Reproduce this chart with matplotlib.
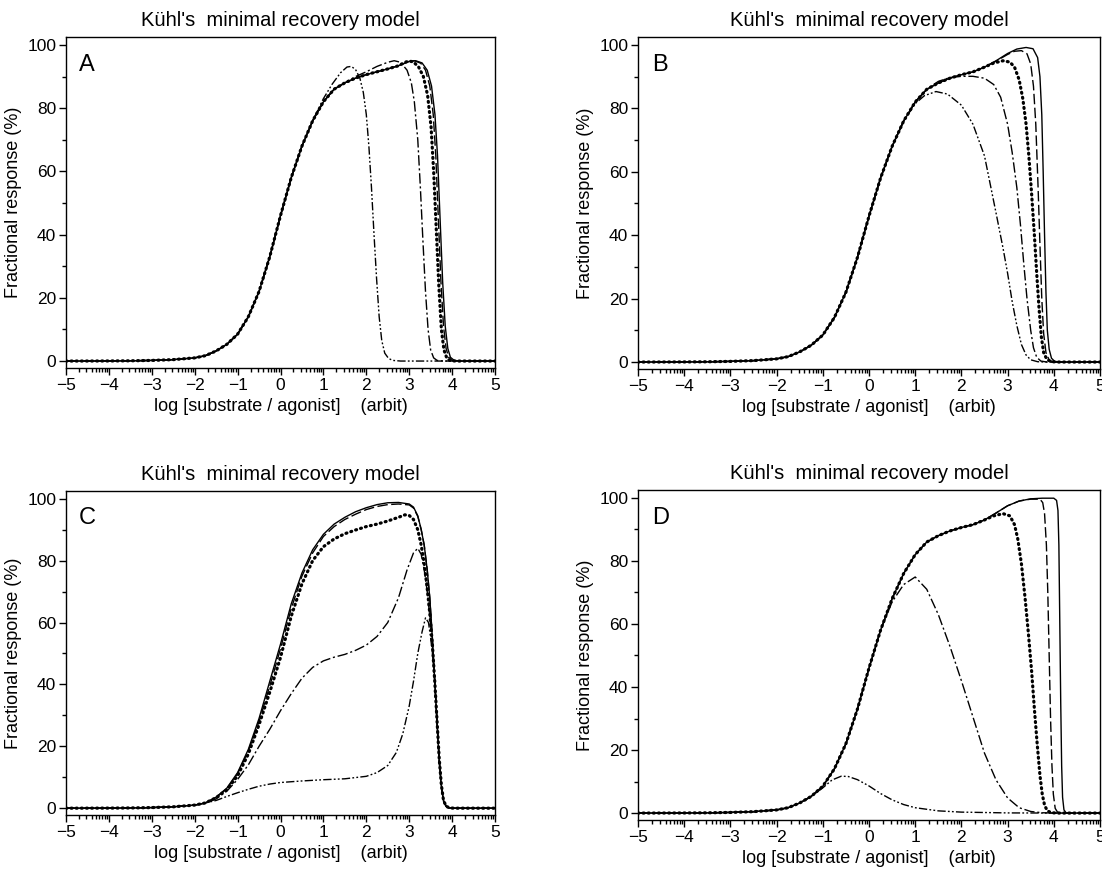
import numpy as np
import matplotlib.pyplot as plt

plt.rcParams['font.family'] = ['Liberation Sans', 'DejaVu Sans']

# shared foot of every curve (x < -1.5)
base_x = [-5, -4.5, -4, -3.5, -3, -2.5, -2, -1.75]
base_y = [0, 0.01, 0.03, 0.08, 0.2, 0.45, 1.0, 1.7]

# shared rising limb (panels A, B, D)
rise_x = [-1.5, -1.25, -1, -0.75, -0.5, -0.25, 0, 0.25, 0.5, 0.75, 1, 1.25, 1.5, 1.75, 2, 2.25, 2.5, 2.75]
rise_y = [3.2, 5.3, 8.5, 14, 22, 33, 46, 58, 68, 76, 82, 86, 88, 89.5, 90.6, 91.5, 92.4, 93.4]

# ---- panel A tails ----
a_solid_x = [3.0, 3.15, 3.3, 3.42, 3.52, 3.6, 3.66, 3.72, 3.78, 3.84, 3.9, 3.96, 4.05, 4.2, 5]
a_solid_y = [94.8, 95.0, 94.3, 92, 87, 78, 65, 45, 25, 11, 4, 1.2, 0.2, 0, 0]
a_dash_x = [3.0, 3.12, 3.27, 3.38, 3.48, 3.56, 3.62, 3.68, 3.74, 3.8, 3.86, 3.92, 4.0, 4.15, 5]
a_dash_y = [94.8, 95.0, 94.2, 92, 87, 78, 65, 45, 25, 11, 4, 1.2, 0.2, 0, 0]
a_dot_x = [2.9, 3.0, 3.1, 3.22, 3.33, 3.43, 3.51, 3.57, 3.63, 3.69, 3.75, 3.81, 3.88, 3.96, 4.1, 5]
a_dot_y = [94.5, 94.9, 94.6, 93, 90, 84, 74, 60, 42, 24, 10, 3.5, 0.8, 0.1, 0, 0]
a_dd_x = [1.75, 2.0, 2.25, 2.5, 2.65, 2.8, 2.95, 3.05, 3.12, 3.2, 3.26, 3.32, 3.38, 3.44, 3.5, 3.57, 3.65, 3.8, 5]
a_dd_y = [90.0, 91.5, 93.2, 94.5, 95, 94.5, 92, 88, 82, 70, 55, 38, 22, 10, 3.5, 1, 0.2, 0, 0]
a_ddd_x = [1.0, 1.2, 1.4, 1.55, 1.65, 1.75, 1.85, 1.93, 2.0, 2.06, 2.12, 2.18, 2.24, 2.3, 2.36, 2.43, 2.52, 2.62, 2.8, 5]
a_ddd_y = [83, 87.5, 91.2, 93, 93.2, 92.2, 89.5, 85, 78, 68, 55, 40, 26, 14, 6.5, 2.5, 0.8, 0.2, 0, 0]

# ---- panel B tails ----
b_solid_x = [2.5, 2.75, 3.0, 3.2, 3.4, 3.55, 3.65, 3.7, 3.74, 3.77, 3.8, 3.83, 3.86, 3.9, 3.95, 4.02, 4.15, 5]
b_solid_y = [93.0, 95.0, 97.3, 98.7, 99.2, 98.8, 96, 90, 78, 60, 40, 22, 10, 4, 1.2, 0.2, 0, 0]
b_dash_x = [2.5, 2.75, 3.0, 3.15, 3.3, 3.42, 3.5, 3.56, 3.61, 3.66, 3.7, 3.74, 3.78, 3.83, 3.9, 4.0, 5]
b_dash_y = [93.0, 94.9, 97, 98, 98.2, 97.2, 94, 87, 75, 55, 37, 20, 9, 3, 0.6, 0, 0]
b_dot_x = [2.5, 2.7, 2.9, 3.05, 3.15, 3.25, 3.33, 3.4, 3.46, 3.52, 3.58, 3.63, 3.68, 3.73, 3.78, 3.85, 3.95, 4.1, 5]
b_dot_y = [93, 94.3, 95.0, 94.6, 93, 89, 83, 75, 65, 53, 40, 28, 17, 8, 3, 0.8, 0.1, 0, 0]
b_dd_x = [1.5, 1.75, 2.0, 2.25, 2.5, 2.7, 2.85, 3.0, 3.1, 3.2, 3.28, 3.35, 3.42, 3.5, 3.56, 3.63, 3.72, 3.85, 5]
b_dd_y = [88.5, 89.7, 90.1, 90.1, 89.5, 87.5, 83.5, 75, 66, 55, 43, 31, 20, 10, 4.5, 1.5, 0.3, 0, 0]
b_ddd_x = [0.75, 1.0, 1.2, 1.45, 1.7, 2.0, 2.25, 2.5, 2.75, 2.9, 3.0, 3.1, 3.2, 3.3, 3.4, 3.5, 3.65, 3.8, 5]
b_ddd_y = [76, 81.5, 84, 85.3, 84.5, 81, 75, 65, 47, 36, 28, 19, 11.5, 5.5, 2.2, 0.7, 0.1, 0, 0]

# ---- panel C (own rising limbs) ----
c_drop_x = [3.2, 3.28, 3.35, 3.42, 3.48, 3.54, 3.6, 3.65, 3.7, 3.75, 3.8, 3.86, 3.93, 4.05, 5]
c_solid_x = [-1.5, -1.25, -1, -0.75, -0.5, -0.25, 0, 0.25, 0.5, 0.75, 1, 1.25, 1.5, 1.75, 2, 2.25, 2.5, 2.75, 3.0, 3.1] + c_drop_x
c_solid_y = [3.6, 6.5, 11.5, 19, 29, 41, 53, 66, 76, 83.5, 88.5, 91.8, 94, 95.8, 97.1, 98.1, 98.7, 98.8, 98.3, 97.3,
             94.5, 90, 85, 77, 68, 55, 40, 27, 15, 7, 2.2, 0.6, 0.1, 0, 0]
c_dash_x = [-1.5, -1.25, -1, -0.75, -0.5, -0.25, 0, 0.25, 0.5, 0.75, 1, 1.25, 1.5, 1.75, 2, 2.25, 2.5, 2.75, 3.0, 3.1] + c_drop_x
c_dash_y = [3.5, 6.3, 11.2, 18.5, 28, 39.5, 51.5, 64.5, 75, 82.5, 87.8, 91, 93.3, 95, 96.5, 97.5, 98.1, 98.3, 98.0, 97.0,
            94.3, 90, 85, 77, 68, 55, 40, 27, 15, 7, 2.2, 0.6, 0.1, 0, 0]
c_dot_x = [-1.5, -1.25, -1, -0.75, -0.5, -0.25, 0, 0.25, 0.5, 0.75, 1, 1.25, 1.5, 1.75, 2, 2.25, 2.5, 2.75, 2.9, 3.0, 3.1] + c_drop_x
c_dot_y = [3.4, 6, 10.5, 17.5, 27, 37.5, 48.7, 62, 72.5, 80, 84.5, 87, 88.7, 89.9, 91, 91.8, 92.8, 94, 94.8, 94.6, 93.3,
           90, 85, 79, 71, 63, 53, 40, 28, 16, 7.5, 2.5, 0.7, 0.1, 0, 0]
c_dd_x = [-1.5, -1.25, -1, -0.75, -0.5, -0.25, 0, 0.25, 0.5, 0.75, 1, 1.25, 1.5, 1.75, 2, 2.25, 2.5, 2.75, 2.95, 3.1,
          3.2, 3.28, 3.35, 3.42, 3.48, 3.54, 3.6, 3.65, 3.7, 3.75, 3.8, 3.86, 3.93, 4.05, 5]
c_dd_y = [3.0, 5.5, 9.3, 14, 20, 25.5, 31.5, 37, 42, 45.5, 47.6, 48.8, 49.7, 51, 52.7, 55.5, 60, 68, 77, 82.5,
          84, 82, 77, 70, 62, 53, 40, 28, 16, 7.5, 2.5, 0.7, 0.1, 0, 0]
c_ddd_x = [-1.5, -1.25, -1, -0.75, -0.5, -0.25, 0, 0.5, 1, 1.5, 2, 2.25, 2.5, 2.7, 2.85, 3.0, 3.1, 3.2, 3.3, 3.38,
           3.45, 3.5, 3.55, 3.6, 3.65, 3.7, 3.75, 3.8, 3.86, 3.93, 4.05, 5]
c_ddd_y = [2.5, 3.8, 5, 6.1, 7.1, 7.8, 8.3, 8.8, 9.2, 9.5, 10.3, 11.5, 13.8, 18, 24, 33, 41, 50, 57, 61.5,
           60, 55, 49, 40, 28, 16, 7.5, 2.5, 0.7, 0.1, 0, 0]

# ---- panel D tails ----
d_solid_x = [2.5, 2.75, 3.0, 3.25, 3.5, 3.75, 4.0, 4.06, 4.09, 4.11, 4.13, 4.15, 4.17, 4.19, 4.22, 4.27, 5]
d_solid_y = [93.0, 95.2, 97.5, 99.0, 99.7, 99.9, 99.9, 99.2, 96, 85, 60, 35, 15, 5, 1, 0, 0]
d_dash_x = [2.5, 2.75, 3.0, 3.25, 3.5, 3.7, 3.76, 3.8, 3.84, 3.87, 3.9, 3.93, 3.96, 3.99, 4.03, 4.08, 4.15, 5]
d_dash_y = [93.0, 95.2, 97.5, 99.0, 99.6, 99.6, 98.5, 95, 85, 70, 50, 30, 15, 6, 1.5, 0.3, 0, 0]
d_dot_x = [2.5, 2.7, 2.9, 3.05, 3.15, 3.22, 3.3, 3.38, 3.45, 3.52, 3.58, 3.64, 3.7, 3.75, 3.8, 3.86, 3.95, 4.1, 5]
d_dot_y = [93, 94.3, 95.0, 94.3, 91.5, 87, 79, 68, 57, 45, 33, 22, 12, 6, 2.5, 0.7, 0.1, 0, 0]
d_dd_x = [0.5, 0.75, 1.0, 1.25, 1.5, 1.75, 2.0, 2.25, 2.5, 2.75, 3.0, 3.25, 3.5, 3.75, 4.0, 5]
d_dd_y = [67, 72.5, 74.9, 71, 63, 53, 42, 30.5, 19, 10.5, 4.8, 1.7, 0.5, 0.1, 0, 0]
d_ddd_x = [-1.25, -1.0, -0.8, -0.6, -0.45, -0.25, 0.0, 0.25, 0.5, 0.75, 1.0, 1.5, 2.0, 3.0, 4.0, 5]
d_ddd_y = [5.2, 8.0, 10.5, 11.7, 11.6, 10.6, 8.6, 6.2, 4.2, 2.7, 1.7, 0.7, 0.3, 0.05, 0, 0]


def join(tx, ty, limb=True):
    # foot (+ shared limb) up to where the tail begins
    hx = base_x + (rise_x if limb else [])
    hy = base_y + (rise_y if limb else [])
    keep = [i for i, v in enumerate(hx) if v < tx[0]]
    return [hx[i] for i in keep] + list(tx), [hy[i] for i in keep] + list(ty)


styles = {
    'solid': dict(ls='-', lw=1.0),
    'dot': dict(ls=(0, (0.3, 1.3)), lw=2.3, dash_capstyle='round'),
    'dash': dict(ls=(0, (7.5, 2.5)), lw=1.0),
    'dd': dict(ls=(0, (7.5, 2, 1.5, 2)), lw=1.0),
    'ddd': dict(ls=(0, (6, 1.6, 1.3, 1.6, 1.3, 1.6)), lw=1.0),
}

panels = [
    ('A', [66, 37, 495, 368], True,
     [('ddd', a_ddd_x, a_ddd_y), ('dd', a_dd_x, a_dd_y), ('dot', a_dot_x, a_dot_y),
      ('dash', a_dash_x, a_dash_y), ('solid', a_solid_x, a_solid_y)]),
    ('B', [638, 37, 1100, 369], True,
     [('ddd', b_ddd_x, b_ddd_y), ('dd', b_dd_x, b_dd_y), ('dot', b_dot_x, b_dot_y),
      ('dash', b_dash_x, b_dash_y), ('solid', b_solid_x, b_solid_y)]),
    ('C', [66, 491, 495, 815], False,
     [('ddd', c_ddd_x, c_ddd_y), ('dd', c_dd_x, c_dd_y), ('dot', c_dot_x, c_dot_y),
      ('dash', c_dash_x, c_dash_y), ('solid', c_solid_x, c_solid_y)]),
    ('D', [638, 490, 1100, 820], True,
     [('ddd', d_ddd_x, d_ddd_y), ('dd', d_dd_x, d_dd_y), ('dot', d_dot_x, d_dot_y),
      ('dash', d_dash_x, d_dash_y), ('solid', d_solid_x, d_solid_y)]),
]

W, H = 1102, 874
fig = plt.figure(figsize=(W / 100, H / 100), dpi=100)

minor_x = [n + np.log10(k) for n in range(-5, 5) for k in range(2, 10)]

for letter, (l, t, r, b), limb, curves in panels:
    ax = fig.add_axes([l / W, 1 - b / H, (r - l) / W, (b - t) / H])
    for key, tx, ty in curves:
        x, y = join(tx, ty, limb)
        ax.plot(x, y, color='black', **styles[key])
    ax.set_xlim(-5, 5)
    ax.set_ylim(-2.2, 102.5)
    ax.set_xticks(range(-5, 6))
    ax.set_xticks(minor_x, minor=True)
    ax.set_yticks(range(0, 101, 20))
    ax.set_yticks(range(10, 100, 20), minor=True)
    ax.tick_params(which='major', direction='out', length=5, width=1, labelsize=12.5, pad=2, colors='black')
    ax.tick_params(which='minor', direction='out', length=3, width=1)
    for sp in ax.spines.values():
        sp.set_linewidth(1.0)
    ax.set_title("Kühl's  minimal recovery model", fontsize=14.5, pad=8)
    ax.set_xlabel("log [substrate / agonist]    (arbit)", fontsize=13, labelpad=4)
    ax.set_ylabel("Fractional response (%)", fontsize=13, labelpad=4)
    ax.text(0.03, 0.95, letter, transform=ax.transAxes, fontsize=17, va='top', ha='left')

fig.savefig('out.png', dpi=100)
